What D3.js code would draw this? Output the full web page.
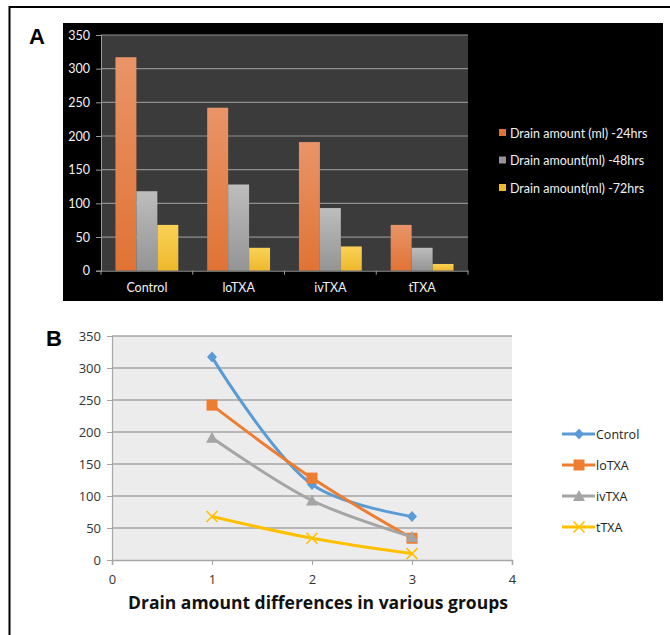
<!DOCTYPE html>
<html>
<head>
<meta charset="utf-8">
<script src="https://cdn.jsdelivr.net/npm/d3@7"></script>
<style>
  html, body { margin: 0; padding: 0; background: #fff; }
  svg { display: block; }
</style>
</head>
<body>
<svg id="fig" width="670" height="635"></svg>
<script>
// Groups and drain amounts (ml) at each time point
const groups = ["Control", "loTXA", "ivTXA", "tTXA"];
const periods = ["Drain amount (ml) -24hrs", "Drain amount(ml) -48hrs", "Drain amount(ml) -72hrs"];
const drain24 = [317, 242, 191, 68];
const drain48 = [118, 128, 93, 34];
const drain72 = [68, 34, 36, 10];
const yTicks = [0, 50, 100, 150, 200, 250, 300, 350];
const timePoints = [1, 2, 3];
const xTicksB = [0, 1, 2, 3, 4];
const xTitleB = "Drain amount differences in various groups";

const barColors = [["#e99468", "#e07334"], ["#bdbdbd", "#949494"], ["#f9d257", "#efb82c"]];
const lineColors = ["#5b9bd5", "#ed7d31", "#a5a5a5", "#ffc000"];
const markerKinds = ["diamond", "square", "triangle", "cross"];

const fontA = "Lato, 'Open Sans', sans-serif";
const fontB = "'Open Sans', sans-serif";

const svg = d3.select("#fig");

// outer frame (top and left edges)
svg.append("line").attr("x1", 9).attr("x2", 670).attr("y1", 7).attr("y2", 7)
  .attr("stroke", "#000").attr("stroke-width", 2);
svg.append("line").attr("x1", 9.5).attr("x2", 9.5).attr("y1", 6).attr("y2", 635)
  .attr("stroke", "#000").attr("stroke-width", 2);

// ---------- Panel A: grouped bars ----------
svg.append("text").attr("x", 29).attr("y", 44).text("A")
  .attr("font-family", "Liberation Sans, Arial, sans-serif").attr("font-weight", "bold")
  .attr("font-size", 22).attr("fill", "#000");

svg.append("rect").attr("x", 63).attr("y", 23).attr("width", 600).attr("height", 278).attr("fill", "#000");

const A = { left: 101, right: 468, top: 35, bottom: 270.7 };
svg.append("rect").attr("x", A.left).attr("y", A.top)
  .attr("width", A.right - A.left).attr("height", A.bottom - A.top).attr("fill", "#3b3b3b");

const yA = d3.scaleLinear().domain([0, 350]).range([A.bottom, A.top]);
const x0 = d3.scaleBand().domain(groups).range([A.left, A.right]).padding(0);
const x1 = d3.scaleBand().domain(d3.range(periods.length)).range([0, x0.bandwidth()])
  .paddingInner(0).paddingOuter(0.69);

const defs = svg.append("defs");
barColors.forEach((c, i) => {
  const g = defs.append("linearGradient").attr("id", "bg" + i)
    .attr("x1", 0).attr("y1", 0).attr("x2", 0).attr("y2", 1);
  g.append("stop").attr("offset", "0%").attr("stop-color", c[0]);
  g.append("stop").attr("offset", "100%").attr("stop-color", c[1]);
});

// gridlines
svg.append("g").selectAll("line").data(yTicks.slice(1)).join("line")
  .attr("x1", A.left).attr("x2", A.right)
  .attr("y1", d => yA(d)).attr("y2", d => yA(d))
  .attr("stroke", "#8f8f8f").attr("stroke-width", 1.2);

const seriesA = [drain24, drain48, drain72];
const barsG = svg.append("g");
seriesA.forEach((vals, si) => {
  barsG.append("g").selectAll("rect").data(groups).join("rect")
    .attr("x", (d) => x0(d) + x1(si))
    .attr("width", x1.bandwidth())
    .attr("y", (d, gi) => yA(vals[gi]))
    .attr("height", (d, gi) => yA(0) - yA(vals[gi]))
    .attr("fill", `url(#bg${si})`);
});

// y axis A
const yAxisA = svg.append("g").attr("transform", `translate(${A.left},0)`)
  .call(d3.axisLeft(yA).tickValues(yTicks).tickSize(5).tickPadding(6));
yAxisA.select(".domain").attr("stroke", "#9a9a9a");
yAxisA.selectAll(".tick line").attr("stroke", "#9a9a9a");
yAxisA.selectAll("text").attr("fill", "#f2f2f2").attr("font-size", 12.5)
  .attr("font-family", fontA);

// x axis A
const xAxisA = svg.append("g").attr("transform", `translate(0,${A.bottom})`)
  .call(d3.axisBottom(x0).tickSize(0).tickPadding(12));
xAxisA.select(".domain").attr("stroke", "#9a9a9a");
xAxisA.selectAll("text").attr("fill", "#f2f2f2").attr("font-size", 12.5)
  .attr("font-family", fontA);
svg.append("g").selectAll("line").data(groups.concat(["end"])).join("line")
  .attr("x1", (d, i) => A.left + i * x0.step()).attr("x2", (d, i) => A.left + i * x0.step())
  .attr("y1", A.bottom).attr("y2", A.bottom + 4).attr("stroke", "#9a9a9a");

// legend A
const legA = svg.append("g").attr("transform", "translate(499,133)");
periods.forEach((p, i) => {
  const row = legA.append("g").attr("transform", `translate(0,${i * 27.5})`);
  row.append("rect").attr("x", 0).attr("y", -4).attr("width", 7).attr("height", 7)
    .attr("fill", barColors[i][1]);
  row.append("text").attr("x", 11).attr("y", 4.5).text(p)
    .attr("fill", "#f2f2f2").attr("font-size", 12.5)
    .attr("font-family", fontA);
});

// ---------- Panel B: lines ----------
svg.append("text").attr("x", 46).attr("y", 346).text("B")
  .attr("font-family", "Liberation Sans, Arial, sans-serif").attr("font-weight", "bold")
  .attr("font-size", 22).attr("fill", "#000");

const B = { left: 112, right: 512, top: 336, bottom: 560 };
svg.append("rect").attr("x", B.left).attr("y", B.top)
  .attr("width", B.right - B.left).attr("height", B.bottom - B.top).attr("fill", "#ececec");

const xB = d3.scaleLinear().domain([0, 4]).range([B.left, B.right]);
const yB = d3.scaleLinear().domain([0, 350]).range([B.bottom, B.top]);

svg.append("g").selectAll("line").data(yTicks.slice(1)).join("line")
  .attr("x1", B.left).attr("x2", B.right)
  .attr("y1", d => yB(d)).attr("y2", d => yB(d))
  .attr("stroke", "#a6a6a6").attr("stroke-width", 1.6);

const yAxisB = svg.append("g").attr("transform", `translate(${B.left},0)`)
  .call(d3.axisLeft(yB).tickValues(yTicks).tickSize(5).tickPadding(6));
yAxisB.select(".domain").attr("stroke", "#a6a6a6").attr("stroke-width", 1.2);
yAxisB.selectAll(".tick line").attr("stroke", "#a6a6a6");
yAxisB.selectAll("text").attr("fill", "#333").attr("font-size", 13)
  .attr("font-family", fontB);

const xAxisB = svg.append("g").attr("transform", `translate(0,${B.bottom})`)
  .call(d3.axisBottom(xB).tickValues(xTicksB).tickFormat(d3.format("d")).tickSize(5).tickPadding(10));
xAxisB.select(".domain").attr("stroke", "#a6a6a6").attr("stroke-width", 1.6);
xAxisB.selectAll(".tick line").attr("stroke", "#a6a6a6");
xAxisB.selectAll("text").attr("fill", "#333").attr("font-size", 13)
  .attr("font-family", fontB);

svg.append("text").attr("x", (B.left + B.right) / 2 + 6).attr("y", 609)
  .attr("text-anchor", "middle").text(xTitleB)
  .attr("font-family", fontB).attr("font-weight", "bold")
  .attr("font-size", 17.5).attr("fill", "#111");

function drawMarker(g, kind, color) {
  if (kind === "diamond") {
    g.append("path").attr("d", "M0,-5.5L5,0L0,5.5L-5,0Z").attr("fill", color);
  } else if (kind === "square") {
    g.append("rect").attr("x", -5.5).attr("y", -5.5).attr("width", 11).attr("height", 11)
      .attr("fill", color);
  } else if (kind === "triangle") {
    g.append("path").attr("d", "M0,-6L6,5L-6,5Z").attr("fill", color);
  } else {
    g.append("path").attr("d", "M-5.5,-5.5L5.5,5.5M-5.5,5.5L5.5,-5.5")
      .attr("stroke", color).attr("stroke-width", 1.6).attr("fill", "none");
  }
}

const line = d3.line().x((d, i) => xB(timePoints[i])).y(d => yB(d))
  .curve(d3.curveCatmullRom.alpha(0.5));

groups.forEach((gname, gi) => {
  const vals = [drain24[gi], drain48[gi], drain72[gi]];
  const g = svg.append("g");
  g.append("path").attr("d", line(vals)).attr("fill", "none")
    .attr("stroke", lineColors[gi]).attr("stroke-width", 3).attr("stroke-linejoin", "round");
  vals.forEach((v, i) => {
    const m = g.append("g").attr("transform", `translate(${xB(timePoints[i])},${yB(v)})`);
    drawMarker(m, markerKinds[gi], lineColors[gi]);
  });
});

// legend B
const legB = svg.append("g").attr("transform", "translate(562,434)");
groups.forEach((gname, gi) => {
  const row = legB.append("g").attr("transform", `translate(0,${gi * 31})`);
  row.append("line").attr("x1", 0).attr("x2", 33).attr("y1", 0).attr("y2", 0)
    .attr("stroke", lineColors[gi]).attr("stroke-width", 3);
  const m = row.append("g").attr("transform", "translate(17,0)");
  drawMarker(m, markerKinds[gi], lineColors[gi]);
  row.append("text").attr("x", 34).attr("y", 5).text(gname)
    .attr("fill", "#222").attr("font-size", 12.5).attr("font-family", fontB);
});
</script>
</body>
</html>
